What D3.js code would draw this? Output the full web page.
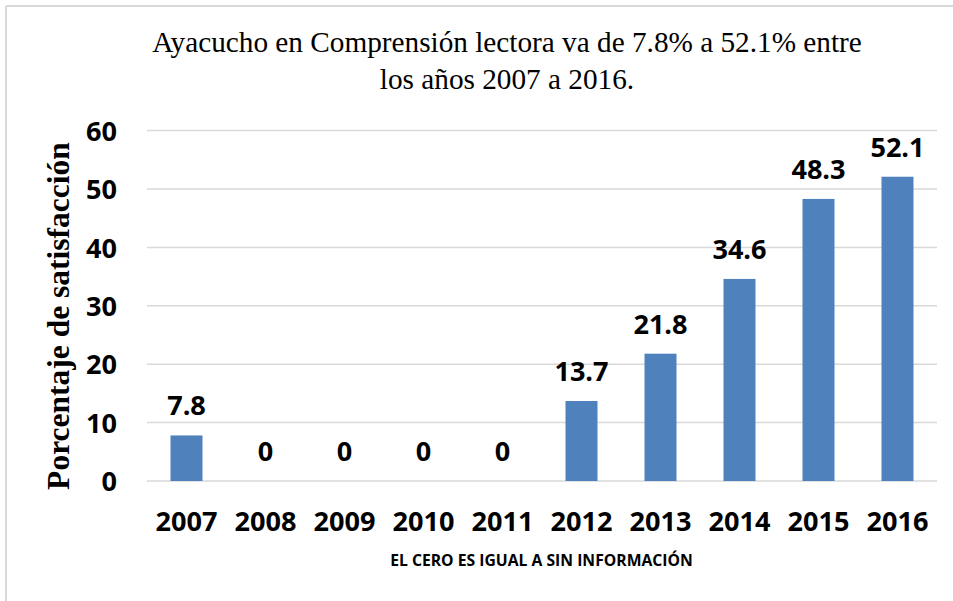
<!DOCTYPE html>
<html>
<head>
<meta charset="utf-8">
<script src="https://cdn.jsdelivr.net/npm/d3@7"></script>
<style>
  html, body { margin: 0; padding: 0; background: #fff; }
  svg { display: block; }
</style>
</head>
<body>
<svg id="chart" width="953" height="601"></svg>
<script>
const categories = ["2007","2008","2009","2010","2011","2012","2013","2014","2015","2016"];
const values = [7.8, 0, 0, 0, 0, 13.7, 21.8, 34.6, 48.3, 52.1];
const valueLabels = ["7.8","0","0","0","0","13.7","21.8","34.6","48.3","52.1"];
const yTicks = [0, 10, 20, 30, 40, 50, 60];
const titleLines = ["Ayacucho en Comprensión lectora va de 7.8% a 52.1% entre", "los años 2007 a 2016."];
const yTitle = "Porcentaje de satisfacción";
const footnote = "EL CERO ES IGUAL A SIN INFORMACIÓN";

const svg = d3.select("#chart");
const W = 953, H = 601;
const plot = { left: 147, right: 937, top: 130.6, bottom: 481 };
const sansBold = "'Open Sans', Lato, sans-serif";
const serif = "'Liberation Serif', 'Times New Roman', serif";

// returns font size so that the text fits the target width
function fitSize(text, family, weight, baseSize, target) {
  const t = svg.append("text").attr("font-family", family).attr("font-weight", weight)
    .attr("font-size", baseSize).text(text);
  const w = t.node().getComputedTextLength();
  t.remove();
  return baseSize * target / w;
}

const numSize = fitSize("2007", sansBold, "bold", 26, 62);

// frame lines (top & left)
svg.append("line").attr("x1", 6).attr("x2", W).attr("y1", 6).attr("y2", 6)
  .attr("stroke", "#d9d9d9").attr("stroke-width", 2);
svg.append("line").attr("x1", 6).attr("x2", 6).attr("y1", 6).attr("y2", H)
  .attr("stroke", "#d9d9d9").attr("stroke-width", 2);

const x = d3.scaleBand().domain(categories).range([plot.left, plot.right]).paddingInner(0.595).paddingOuter(0.2975);
const y = d3.scaleLinear().domain([0, 60]).range([plot.bottom, plot.top]);

// gridlines
svg.append("g").selectAll("line").data(yTicks).join("line")
  .attr("x1", plot.left).attr("x2", plot.right)
  .attr("y1", d => y(d)).attr("y2", d => y(d))
  .attr("stroke", "#d9d9d9").attr("stroke-width", 1.5);

// y axis labels
const yAxis = d3.axisLeft(y).tickValues(yTicks).tickSize(0).tickPadding(0).tickFormat(d3.format("d"));
const gy = svg.append("g").attr("transform", `translate(${plot.left - 30},0)`).call(yAxis);
gy.select(".domain").remove();
gy.selectAll("text").attr("font-family", sansBold).attr("font-weight", "bold")
  .attr("font-size", numSize).attr("fill", "#000").attr("dy", "0.36em");

// x axis labels
const xAxis = d3.axisBottom(x).tickSize(0).tickPadding(0);
const gx = svg.append("g").attr("transform", `translate(0,${plot.bottom})`).call(xAxis);
gx.select(".domain").remove();
gx.selectAll("text").attr("font-family", sansBold).attr("font-weight", "bold")
  .attr("font-size", numSize).attr("fill", "#000").attr("dy", null).attr("y", 50);

// bars
svg.append("g").selectAll("rect").data(values).join("rect")
  .attr("x", (d, i) => x(categories[i]))
  .attr("width", x.bandwidth())
  .attr("y", d => y(d))
  .attr("height", d => y(0) - y(d))
  .attr("fill", "#4f81bd");

// data labels
svg.append("g").selectAll("text").data(values).join("text")
  .attr("x", (d, i) => x(categories[i]) + x.bandwidth() / 2)
  .attr("y", d => y(d) - 20)
  .attr("text-anchor", "middle")
  .attr("font-family", sansBold).attr("font-weight", "bold")
  .attr("font-size", numSize).attr("fill", "#000")
  .text((d, i) => valueLabels[i]);

// title
const titleSize = fitSize(titleLines[0], serif, "normal", 27, 710);
svg.append("g").selectAll("text").data(titleLines).join("text")
  .attr("x", 507).attr("y", (d, i) => 52 + i * 37)
  .attr("text-anchor", "middle")
  .attr("font-family", serif).attr("font-size", titleSize).attr("fill", "#000")
  .text(d => d);

// y title
const yTitleSize = fitSize(yTitle, serif, "bold", 27, 348);
svg.append("text")
  .attr("transform", `translate(69,316) rotate(-90)`)
  .attr("text-anchor", "middle")
  .attr("font-family", serif).attr("font-weight", "bold")
  .attr("font-size", yTitleSize).attr("fill", "#000")
  .text(yTitle);

// footnote
const footSize = fitSize(footnote, sansBold, "bold", 14, 303);
svg.append("text")
  .attr("x", 541.5).attr("y", 566)
  .attr("text-anchor", "middle")
  .attr("font-family", sansBold).attr("font-weight", "bold")
  .attr("font-size", footSize).attr("fill", "#000")
  .text(footnote);
</script>
</body>
</html>
